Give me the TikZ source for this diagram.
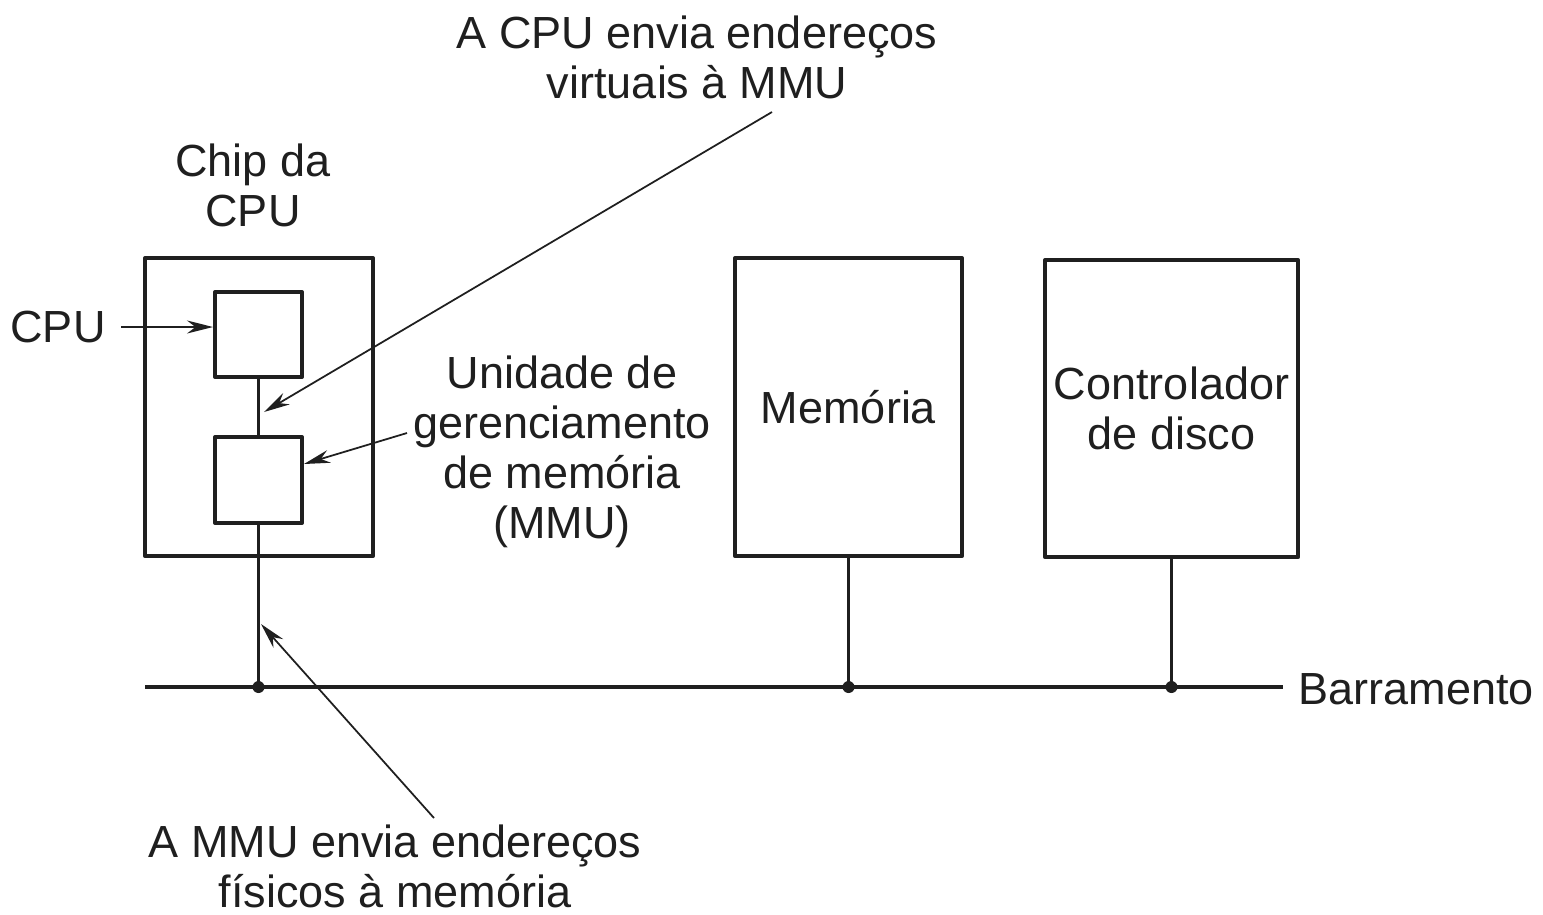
\documentclass[tikz,border=0pt]{standalone}
\usepackage{fontspec}
\setmainfont{Liberation Sans}
\usetikzlibrary{arrows.meta,calc}
\tikzset{
  box/.style={draw, line width=1.1pt, inner sep=0pt},
  note/.style={align=center, inner sep=0pt},
  ptr/.style={line width=0.5pt, -{Stealth[length=2.6mm,width=1.3mm]}},
  dot/.style={circle, fill, inner sep=0pt, minimum size=1.2mm}
}
\begin{document}
\begin{tikzpicture}[x=0.01cm, y=-0.01cm, font=\fontsize{12.8}{14.2}\selectfont, line join=round, color=black!88]
	\useasboundingbox (0,0) rectangle (1543,914);
	% caixas
	\node[box, minimum width=2.28cm, minimum height=2.98cm] (chip) at (259,407) {};
	\node[box, minimum width=0.87cm, minimum height=0.85cm] (cpu) at (258.5,334.5) {};
	\node[box, minimum width=0.87cm, minimum height=0.86cm] (mmu) at (258.5,480) {};
	\node[box, note, minimum width=2.27cm, minimum height=2.98cm] (mem) at (848.5,407) {Memória};
	\node[box, note, minimum width=2.53cm, minimum height=2.97cm] (disk) at (1171.5,408.5) {Controlador\\de disco};
	% barramento
	\path
	(145,687) coordinate (bl)
	(1283,687) coordinate (br)
	;
	\draw[line width=1pt] (bl)--(br);
	\node[note, anchor=west] (bus) at (1298,689) {Barramento};
	\draw[line width=1.1pt] (cpu.south)--(mmu.north);
	\draw[line width=1.1pt] (mmu.south)--(mmu.south |- bl) node[dot]{};
	\draw[line width=1.1pt] (mem.south)--(mem.south |- bl) node[dot]{};
	\draw[line width=1.1pt] (disk.south)--(disk.south |- bl) node[dot]{};
	% textos
	\node[note] (chiplbl) at (253,185) {Chip da\\CPU};
	\node[note] (cpulbl) at (58,327) {CPU};
	\node[note] (top) at (697,57) {A CPU envia endereços\\virtuais à MMU};
	\node[note] (mmulbl) at (562,452) {Unidade de\\gerenciamento\\de memória\\(MMU)};
	\node[note] (bottom) at (395,866) {A MMU envia endereços\\físicos à memória};
	% setas
	\path
	(772,112) coordinate (t1)
	(264,412) coordinate (t2)
	(407,433) coordinate (m1)
	(434,818) coordinate (b1)
	(261,624) coordinate (b2)
	;
	\draw[ptr] ([xshift=0.15cm]cpulbl.east)--(cpulbl.east -| cpu.west);
	\draw[ptr] (t1)--(t2);
	\draw[ptr] (m1)--([yshift=0.16cm]mmu.east);
	\draw[ptr] (b1)--(b2);
\end{tikzpicture}
\end{document}
